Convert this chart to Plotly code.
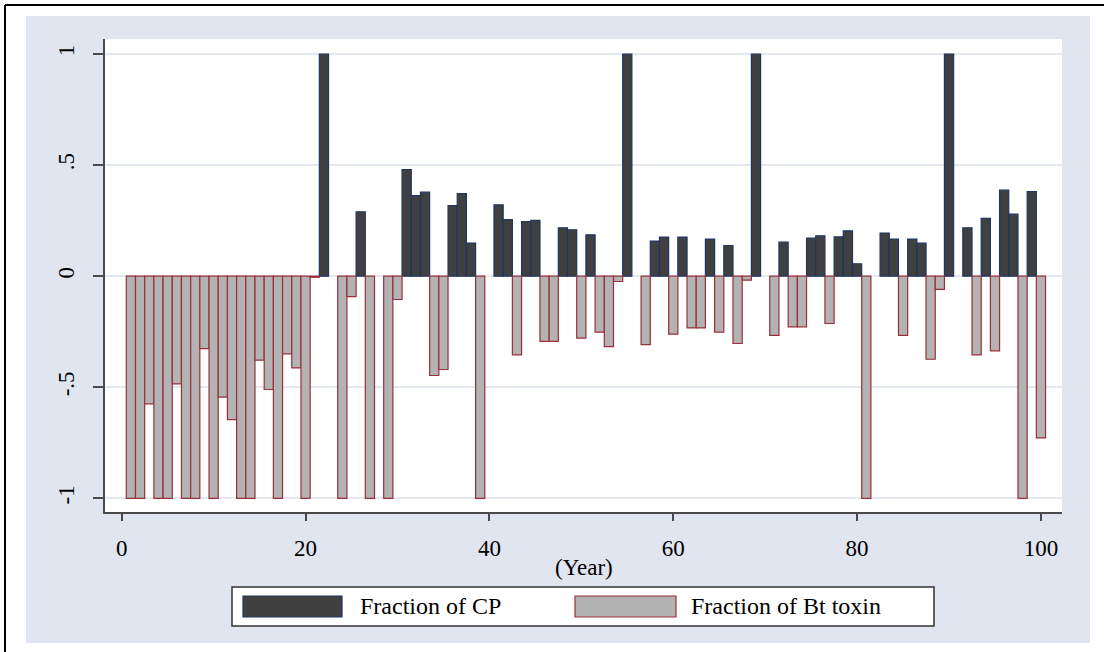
import plotly.graph_objects as go

# Fraction of CP (positive bars), by year
cp_years = [22, 26, 31, 32, 33, 36, 37, 38, 41, 42, 44, 45, 48, 49, 51, 55, 58, 59,
            61, 64, 66, 69, 72, 75, 76, 78, 79, 80, 83, 84, 86, 87, 90, 92, 94, 96,
            97, 99]
cp_values = [1.0, 0.29, 0.48, 0.363, 0.378, 0.318, 0.372, 0.149, 0.321, 0.255,
             0.246, 0.251, 0.218, 0.209, 0.186, 1.0, 0.158, 0.176, 0.176, 0.167,
             0.138, 1.0, 0.153, 0.171, 0.182, 0.177, 0.204, 0.056, 0.194, 0.167,
             0.167, 0.149, 1.0, 0.218, 0.26, 0.387, 0.279, 0.381]

# Fraction of Bt toxin (negative bars), by year
bt_years = [1, 2, 3, 4, 5, 6, 7, 8, 9, 10, 11, 12, 13, 14, 15, 16, 17, 18, 19, 20,
            21, 24, 25, 27, 29, 30, 34, 35, 39, 43, 46, 47, 50, 52, 53, 54, 57, 60,
            62, 63, 65, 67, 68, 71, 73, 74, 77, 81, 85, 88, 89, 93, 95, 98, 100]
bt_values = [-1, -1, -0.575, -1, -1, -0.485, -1, -1, -0.326, -1, -0.544, -0.646,
             -1, -1, -0.378, -0.51, -1, -0.35, -0.413, -1, -0.005, -1, -0.092, -1,
             -1, -0.105, -0.447, -0.42, -1, -0.354, -0.293, -0.293, -0.279, -0.252,
             -0.317, -0.024, -0.308, -0.261, -0.233, -0.233, -0.252, -0.303,
             -0.018, -0.266, -0.228, -0.228, -0.213, -1, -0.266, -0.374, -0.059,
             -0.354, -0.336, -1, -0.728]

x_ticks = [0, 20, 40, 60, 80, 100]
y_ticks = [-1, -0.5, 0, 0.5, 1]
y_ticktext = ["-1", "-.5", "0", ".5", "1"]

series_names = ["Fraction of CP", "Fraction of Bt toxin"]
x_title = "(Year)"

CP_FILL, CP_LINE = "#404040", "#1f3563"
BT_FILL, BT_LINE = "#b3b3b3", "#9a2f3a"
REGION_BG = "#e0e5ef"
GRID = "#e3e8f1"
AXIS = "#4a4a4a"
FONT = "Liberation Serif"

W, H = 1104, 652
ML, MR, MT, MB = 105, 42, 39, 140
PW, PH = W - ML - MR, H - MT - MB


def px(x):
    return (x - ML) / PW


def py(y):
    return (H - MB - y) / PH


fig = go.Figure()
fig.add_trace(go.Bar(x=cp_years, y=cp_values, name=series_names[0], width=1.0,
                     marker=dict(color=CP_FILL, line=dict(color=CP_LINE, width=1.2))))
fig.add_trace(go.Bar(x=bt_years, y=bt_values, name=series_names[1], width=1.0,
                     marker=dict(color=BT_FILL, line=dict(color=BT_LINE, width=1.2))))

shapes = [
    # graph region background and plot area
    dict(type="rect", xref="paper", yref="paper", layer="below",
         x0=px(26), x1=px(1090), y0=py(643), y1=py(16),
         fillcolor=REGION_BG, line=dict(width=0)),
    dict(type="rect", xref="paper", yref="paper", layer="below",
         x0=0, x1=1, y0=0, y1=1, fillcolor="white", line=dict(width=0)),
    # outer frame lines
    dict(type="line", xref="paper", yref="paper", x0=px(5), x1=px(1104),
         y0=py(5), y1=py(5), line=dict(color="black", width=2)),
    dict(type="line", xref="paper", yref="paper", x0=px(5), x1=px(5),
         y0=py(5), y1=py(652), line=dict(color="black", width=2)),
    # legend box and keys
    dict(type="rect", xref="paper", yref="paper", x0=px(232), x1=px(934),
         y0=py(626), y1=py(587), fillcolor="white", line=dict(color="#333333", width=1.5)),
    dict(type="rect", xref="paper", yref="paper", x0=px(243), x1=px(342),
         y0=py(617), y1=py(596), fillcolor=CP_FILL, line=dict(color=CP_LINE, width=1.2)),
    dict(type="rect", xref="paper", yref="paper", x0=px(575), x1=px(676),
         y0=py(617), y1=py(596), fillcolor=BT_FILL, line=dict(color=BT_LINE, width=1.2)),
]

annotations = [
    dict(text=x_title, xref="paper", yref="paper", x=0.5, y=py(567),
         xanchor="center", yanchor="middle", showarrow=False,
         font=dict(family=FONT, size=23, color="black")),
    dict(text=series_names[0], xref="paper", yref="paper", x=px(358), y=py(606),
         xanchor="left", yanchor="middle", showarrow=False,
         font=dict(family=FONT, size=24, color="black")),
    dict(text=series_names[1], xref="paper", yref="paper", x=px(689), y=py(606),
         xanchor="left", yanchor="middle", showarrow=False,
         font=dict(family=FONT, size=24, color="black")),
]

fig.update_layout(
    width=W, height=H,
    margin=dict(l=ML, r=MR, t=MT, b=MB, pad=0),
    paper_bgcolor="white", plot_bgcolor="white",
    barmode="overlay", showlegend=False,
    font=dict(family=FONT, size=23, color="black"),
    shapes=shapes, annotations=annotations,
    xaxis=dict(range=[-1.817, 102.29], tickvals=x_ticks, ticks="outside",
               ticklen=7, tickwidth=1.5, tickcolor=AXIS, showline=True,
               linecolor=AXIS, linewidth=1.5, showgrid=False, zeroline=False,
               tickfont=dict(family=FONT, size=23), ticklabelstandoff=8),
    yaxis=dict(range=[-1.0614, 1.0675], tickvals=y_ticks, ticktext=y_ticktext,
               ticks="outside", ticklen=10, tickwidth=1.5, tickcolor=AXIS,
               showline=True, linecolor=AXIS, linewidth=1.5, showgrid=True,
               gridcolor=GRID, gridwidth=2, zeroline=False, tickangle=-90,
               tickfont=dict(family=FONT, size=23), ticklabelstandoff=10),
)

fig.write_html("out.html")
